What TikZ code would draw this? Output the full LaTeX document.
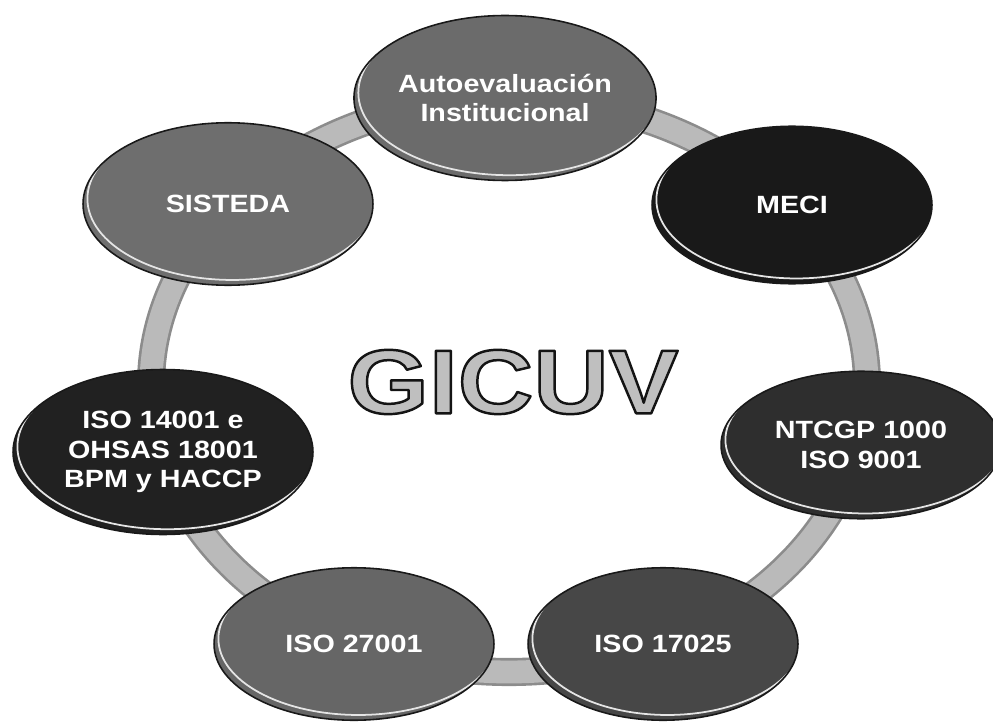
\documentclass[tikz,border=0pt]{standalone}
\usepackage{fontspec}
\setmainfont{Liberation Sans}
\newfontfamily\lblfont[FakeStretch=1.15]{Liberation Sans}
\usetikzlibrary{shapes.geometric,calc}

\newcommand{\outlined}[1]{\special{pdf:literal direct 2 Tr 1.4 w 0.08 0.08 0.08 RG}#1\special{pdf:literal direct 0 Tr}}

\tikzset{
  disc/.style={ellipse, draw=black!90, line width=0.9pt, fill=#1, inner sep=0pt,
    text=white, align=center, font=\lblfont\bfseries\fontsize{14.2}{17}\selectfont,
    path picture={\draw [white!90!black, line width=1pt] let \p1=(path picture bounding box.north east), \p2=(path picture bounding box.center) in ([shift={(2.5pt,3pt)}]\p2) ellipse ({\x1-\x2} and {\y1-\y2});}},
  ringedge/.style={draw=black!45, line width=16pt},
  ringbody/.style={draw=black!27, line width=13pt},
  bigword/.style={font=\lblfont\bfseries\fontsize{51.7}{52}\selectfont, inner sep=0pt}
}

\begin{document}
\begin{tikzpicture}[line cap=round,line join=round,x=0.02cm,y=0.02cm]
	\useasboundingbox (0,0) rectangle (993,721);
	\draw [ringedge] (509,336) ellipse (358 and 287);
	\draw [ringbody] (509,336) ellipse (358 and 287);

	\node [disc=black!58, minimum width=6cm, minimum height=3.3cm] (auto) at (505,623) {\fontsize{14.2}{12}\selectfont Autoevaluación\\Institucional};
	\node [disc=black!90, minimum width=5.6cm, minimum height=3.15cm] (meci) at (792,516) {MECI};
	\node [disc=black!82, minimum width=5.6cm, minimum height=2.95cm] (ntcgp) at (861,276) {\fontsize{14.2}{16}\selectfont NTCGP 1000\\ISO 9001};
	\node [disc=black!72, minimum width=5.4cm, minimum height=3.05cm] (iec) at (663,77) {ISO 17025};
	\node [disc=black!60, minimum width=5.6cm, minimum height=3.05cm] (seg) at (354,77) {ISO 27001};
	\node [disc=black!87, minimum width=6cm, minimum height=3.3cm] (amb) at (163,269) {\fontsize{14.2}{19}\selectfont ISO 14001 e\\OHSAS 18001\\BPM y HACCP};
	\node [disc=black!57, minimum width=5.8cm, minimum height=3.25cm] (sisteda) at (228,517) {SISTEDA};

	\node [bigword, text=black!25] (gicuv) at (513,339) {\outlined{GICUV}};
\end{tikzpicture}
\end{document}
